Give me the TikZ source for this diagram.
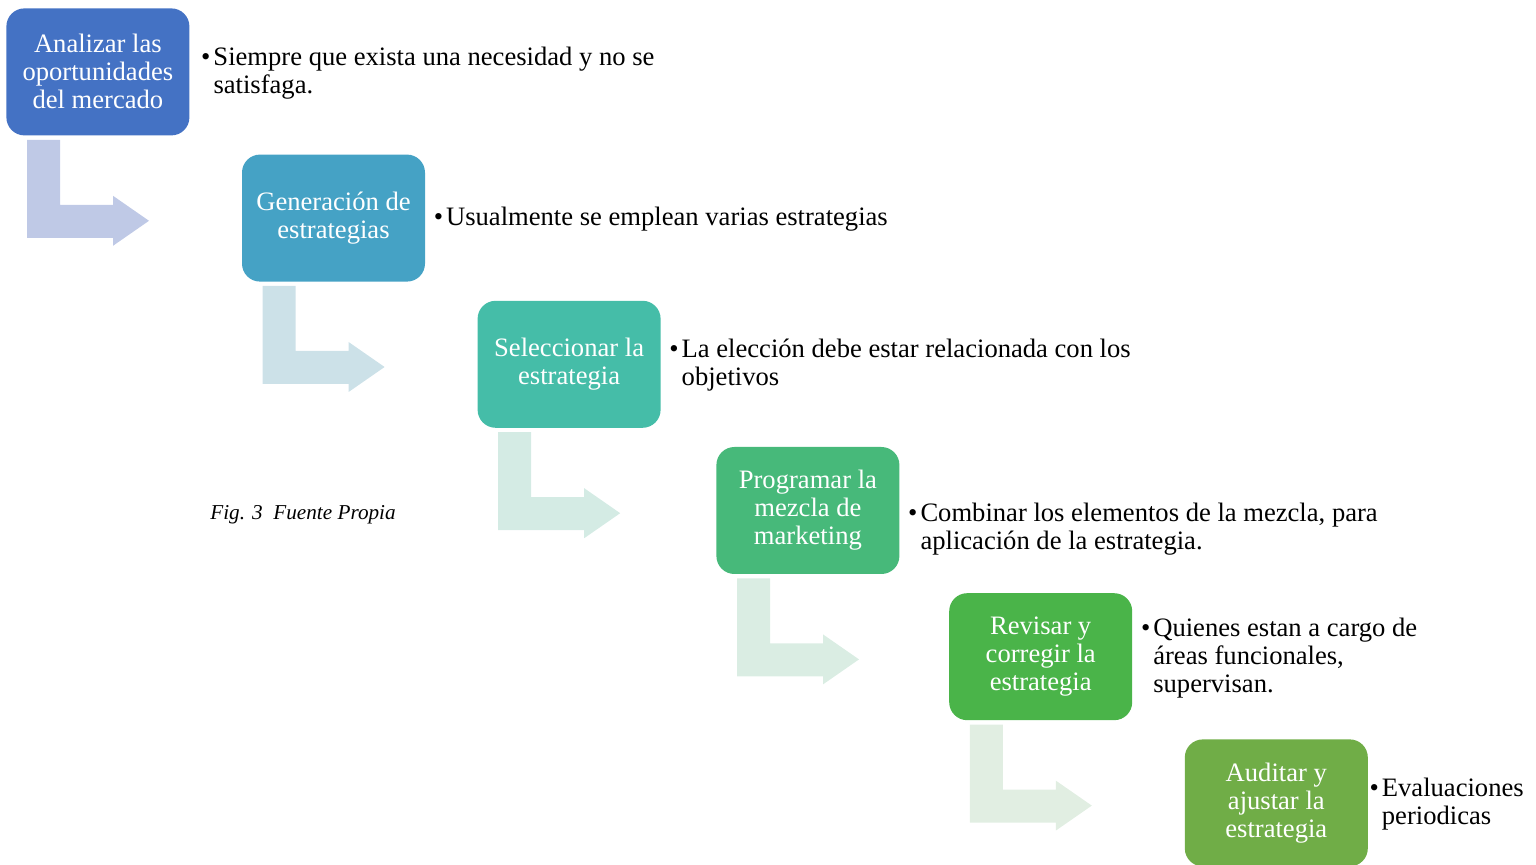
\documentclass[tikz,border=0pt]{standalone}
\usepackage{fontspec}
\setmainfont{Liberation Serif}
\usetikzlibrary{positioning}

\definecolor{pasoA}{HTML}{4472C4}
\definecolor{pasoB}{HTML}{45A2C5}
\definecolor{pasoC}{HTML}{45BDA8}
\definecolor{pasoD}{HTML}{47B97A}
\definecolor{pasoE}{HTML}{4AB449}
\definecolor{pasoF}{HTML}{70AD47}
\definecolor{codoA}{HTML}{BFC9E6}
\definecolor{codoB}{HTML}{CCE1E8}
\definecolor{codoC}{HTML}{D4EBE4}
\definecolor{codoD}{HTML}{DAEDE3}
\definecolor{codoE}{HTML}{E1EEE2}

\newcommand{\punto}[1]{\textbullet\hspace{1.5pt}\begin{tabular}[t]{@{}l@{}}#1\end{tabular}}

\begin{document}
\begin{tikzpicture}[
    font=\fontsize{13.3}{14}\selectfont,
    node distance=9.2pt and 25.9pt,
    paso/.style={
        rectangle,
        rounded corners=9pt,
        minimum width=91.5pt,
        minimum height=63.5pt,
        inner sep=2pt,
        align=center,
        text=white
    },
    nota/.style={
        inner sep=0pt,
        yshift=-1pt,
        right=4pt of #1
    },
    codo/.pic={
        \fill[pic actions] (10.5pt,-2pt) -- (27pt,-2pt) -- (27pt,-34.5pt)
            -- (53.5pt,-34.5pt) -- (53.5pt,-30pt) -- (71.5pt,-42.5pt)
            -- (53.5pt,-55pt) -- (53.5pt,-51pt) -- (10.5pt,-51pt) -- cycle;
    }
]
    \useasboundingbox (0,0) rectangle (768pt,-432.5pt);

    % === Pasos ===
    \node[paso, fill=pasoA, anchor=north west] (analizar) at (3pt,-4pt)
        {Analizar las\\oportunidades\\del mercado};
    \node[paso, fill=pasoB, below right=of analizar] (generar)
        {Generación de\\estrategias};
    \node[paso, fill=pasoC, below right=of generar] (seleccionar)
        {Seleccionar la\\estrategia};
    \node[paso, fill=pasoD, below right=9.2pt and 27.5pt of seleccionar] (programar)
        {Programar la\\mezcla de\\marketing};
    \node[paso, fill=pasoE, below right=9.2pt and 24.5pt of programar] (revisar)
        {Revisar y\\corregir la\\estrategia};
    \node[paso, fill=pasoF, below right=of revisar] (auditar)
        {Auditar y\\ajustar la\\estrategia};

    % === Flechas en codo ===
    \pic[fill=codoA] at (analizar.south west) {codo};
    \pic[fill=codoB] at (generar.south west) {codo};
    \pic[fill=codoC] at (seleccionar.south west) {codo};
    \pic[fill=codoD] at (programar.south west) {codo};
    \pic[fill=codoE] at (revisar.south west) {codo};

    % === Notas ===
    \node[nota=analizar, xshift=1.5pt] (nA)
        {\punto{Siempre que exista una necesidad y no se\\satisfaga.}};
    \node[nota=generar] (nB)
        {\punto{Usualmente se emplean varias estrategias}};
    \node[nota=seleccionar] (nC)
        {\punto{La elección debe estar relacionada con los\\objetivos}};
    \node[nota=programar, yshift=-8.5pt] (nD)
        {\punto{Combinar los elementos de la mezcla, para\\aplicación de la estrategia.}};
    \node[nota=revisar] (nE)
        {\punto{Quienes estan a cargo de\\áreas funcionales,\\supervisan.}};
    \node[nota=auditar, xshift=-3.5pt] (nF)
        {\punto{Evaluaciones\\periodicas}};

    % === Pie ===
    \node[anchor=west, inner sep=0pt, font=\fontsize{10.6}{12}\selectfont\itshape]
        (pie) at (105pt,-257.5pt) {Fig. 3\ \ Fuente Propia};
\end{tikzpicture}
\end{document}
